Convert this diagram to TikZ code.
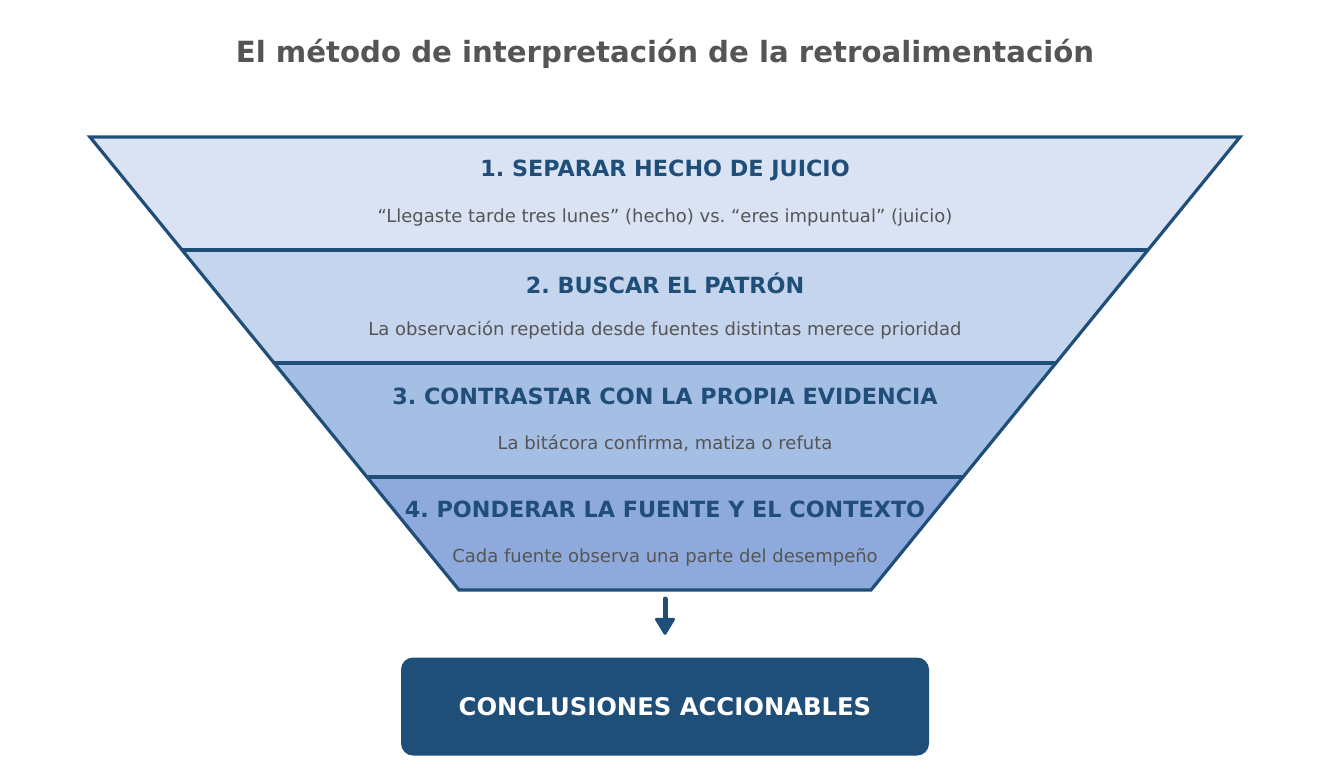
\documentclass[tikz,border=0pt]{standalone}
\usepackage{fontspec}
\setmainfont{DejaVu Sans}
\definecolor{dblue}{HTML}{1F4E79}
\definecolor{gtxt}{HTML}{555555}
\definecolor{bandA}{HTML}{DAE3F3}
\definecolor{bandB}{HTML}{C5D5ED}
\definecolor{bandC}{HTML}{A5BEE3}
\definecolor{bandD}{HTML}{8EA9DB}
\frenchspacing
\tikzset{
  band/.style={draw=dblue, line width=3.2pt, line join=miter},
  head/.style={text=dblue, font=\fontsize{22.3}{26}\selectfont\bfseries, anchor=center},
  sub/.style={text=gtxt, font=\fontsize{18}{22}\selectfont, anchor=center},
}
\begin{document}
\begin{tikzpicture}[x=1pt,y=-1pt]
\useasboundingbox (0,0) rectangle (1329,782);
\node[text=gtxt, font=\fontsize{29.2}{34}\selectfont\bfseries] (title) at (665,54) {El método de interpretación de la retroalimentación};
\fill[bandA] (90,137) -- (1240,137) -- (1147,250) -- (182,250) -- cycle;
\fill[bandB] (182,250) -- (1147,250) -- (1055,363) -- (274,363) -- cycle;
\fill[bandC] (274,363) -- (1055,363) -- (962,477) -- (367,477) -- cycle;
\fill[bandD] (367,477) -- (962,477) -- (871,590) -- (459,590) -- cycle;
\draw[band] (90,137) -- (1240,137) -- (871,590) -- (459,590) -- cycle;
\draw[band] (182,250) -- (1147,250);
\draw[band] (274,363) -- (1055,363);
\draw[band] (367,477) -- (962,477);
\node[head] (h1) at (665,170) {1. SEPARAR HECHO DE JUICIO};
\node[sub] (s1) at (665,217.5) {“Llegaste tarde tres lunes” (hecho) vs. “eres impuntual” (juicio)};
\node[head] (h2) at (665,283) {2. BUSCAR EL PATRÓN};
\node[sub] (s2) at (665,330.5) {La observación repetida desde fuentes distintas merece prioridad};
\node[head] (h3) at (665,396) {3. CONTRASTAR CON LA PROPIA EVIDENCIA};
\node[sub] (s3) at (665,443.5) {La bitácora confirma, matiza o refuta};
\node[head] (h4) at (665,509) {4. PONDERAR LA FUENTE Y EL CONTEXTO};
\node[sub] (s4) at (665,557.5) {Cada fuente observa una parte del desempeño};
\coordinate (bottom) at (665,590);
\node[fill=dblue, rounded corners=12pt, minimum width=528pt, minimum height=98pt, text=white, font=\fontsize{24.3}{28}\selectfont\bfseries] (res) at (665,706.5) {CONCLUSIONES ACCIONABLES};
\coordinate (astart) at ([yshift=-9pt]bottom);
\coordinate (aneck) at ([yshift=40pt]res.north);
\coordinate (aend) at ([yshift=24pt]res.north);
\draw[dblue, line width=5pt, line cap=round] (astart) -- (aneck);
\filldraw[dblue, line width=3pt, line join=round] ([xshift=-8.5pt,yshift=-2pt]aneck) -- ([xshift=8.5pt,yshift=-2pt]aneck) -- (aend) -- cycle;
\end{tikzpicture}
\end{document}
